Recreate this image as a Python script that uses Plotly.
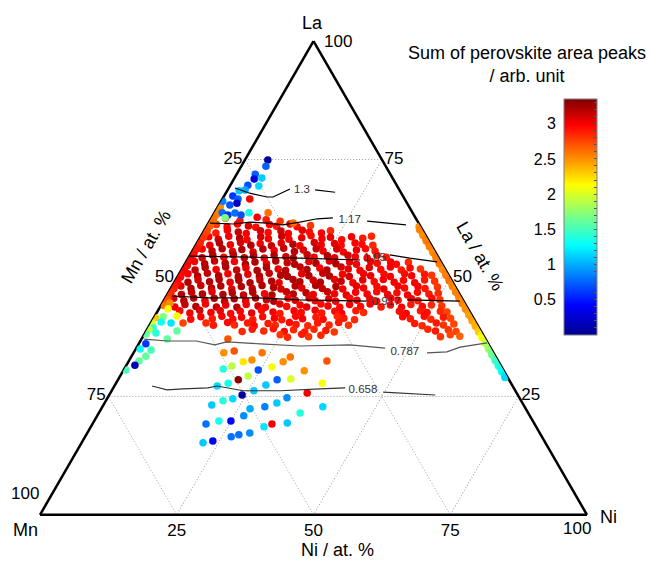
import plotly.graph_objects as go

# ---------------- data (compositions in at.%, value = perovskite peak sum) ----------------
# dense cluster, read row by row (La, Ni and value of every dot)
cluster_la = [
    [62.6, 62.1, 62.8, 62.3, 62.0],
    [61.3, 60.8, 61.4, 61.0, 60.7, 61.3, 60.9, 61.4, 60.8, 61.1],
    [59.5, 60.1, 59.7, 59.4, 60.0, 59.6, 59.9, 59.4, 60.1, 59.7, 59.5, 60.0],
    [58.7, 58.2, 58.8, 58.4, 58.1, 58.7, 58.3, 58.8, 58.2, 58.5, 58.9, 58.3, 58.6, 58.1, 58.7, 58.4, 58.8],
    [56.9, 57.4, 57.0, 57.5, 56.9, 57.3, 56.8, 57.4, 57.1, 56.8, 57.5, 57.0, 57.3, 56.9, 57.4, 57.1, 56.9],
    [56.1, 55.7, 56.2, 55.6, 56.0, 55.5, 56.1, 55.8, 56.3, 55.6, 55.9, 56.2, 55.7, 56.1, 55.5, 55.9, 56.2, 55.7],
    [54.3, 54.8, 54.4, 54.9, 54.3, 54.7, 54.2, 54.8, 54.5, 54.2, 54.9, 54.4, 54.7, 54.3, 54.8, 54.5, 54.2, 54.8, 54.4],
    [53.5, 53.0, 53.6, 53.1, 53.5, 52.9, 53.4, 53.0, 53.6, 53.2, 52.9, 53.5, 53.1, 53.6, 53.0, 53.4, 52.9, 53.5, 53.1, 53.4, 52.9, 53.3],
    [51.7, 52.2, 51.8, 52.3, 51.7, 52.1, 51.6, 52.2, 51.9, 51.6, 52.3, 51.8, 52.1, 51.7, 52.3, 51.9, 51.6, 52.2, 51.8, 52.3, 51.7, 52.1, 51.9],
    [50.9, 50.4, 51.0, 50.5, 50.9, 50.3, 50.8, 50.4, 51.0, 50.6, 50.3, 50.9, 50.5, 51.0, 50.4, 50.8, 50.3, 50.9, 50.5, 50.8, 50.3, 50.9, 50.5, 50.8, 50.6],
    [49.1, 49.6, 49.2, 49.7, 49.1, 49.5, 49.0, 49.6, 49.3, 49.0, 49.7, 49.2, 49.5, 49.1, 49.7, 49.3, 49.0, 49.6, 49.2, 49.7, 49.1, 49.5, 49.0, 49.6, 49.3],
    [48.3, 47.8, 48.4, 47.9, 48.3, 47.7, 48.2, 47.8, 48.4, 48.0, 47.7, 48.3, 47.9, 48.4, 47.8, 48.2, 47.7, 48.3, 47.9, 48.2, 47.7, 48.3, 47.9, 48.2, 47.8, 48.1],
    [46.5, 47.0, 46.6, 47.1, 46.5, 46.9, 46.4, 47.0, 46.7, 46.4, 47.1, 46.6, 46.9, 46.5, 47.1, 46.7, 46.4, 47.0, 46.6, 47.1, 46.5, 46.9, 46.4, 47.0, 46.6, 46.8],
    [45.7, 45.2, 45.8, 45.3, 45.7, 45.1, 45.6, 45.2, 45.8, 45.4, 45.1, 45.7, 45.3, 45.8, 45.2, 45.6, 45.1, 45.7, 45.3, 45.6, 45.1, 45.7, 45.3, 45.6, 45.2, 45.7, 45.4],
    [43.9, 44.4, 44.0, 44.5, 43.9, 44.3, 43.8, 44.4, 44.1, 43.8, 44.5, 44.0, 44.3, 43.9, 44.5, 44.1, 43.8, 44.4, 44.0, 44.5, 43.9, 44.3, 43.8, 44.4, 44.0, 44.3, 44.1],
    [43.1, 42.6, 43.2, 42.7, 43.1, 42.5, 43.0, 42.6, 43.2, 42.8, 42.5, 43.1, 42.7, 43.2, 42.6, 43.0, 42.5, 43.1, 42.7, 43.0, 42.5, 43.1, 42.7, 43.0, 42.8],
    [41.3, 41.8, 41.4, 41.9, 41.3, 41.7, 41.2, 41.8, 41.5, 41.2, 41.9, 41.4, 41.7, 41.3, 41.9, 41.5, 41.2, 41.8, 41.4, 41.9, 41.3, 41.7, 41.5],
    [40.5, 40.0, 40.6, 40.1, 40.5, 39.9, 40.4, 40.0, 40.6, 40.2, 39.9, 40.5, 40.1, 40.6, 40.0, 40.4, 39.9, 40.5, 40.1, 40.3],
    [38.7, 39.2, 38.8, 39.3, 38.7, 39.1, 38.6, 39.2, 38.9, 38.6, 39.2, 38.8, 39.1, 38.7],
    [38.0, 37.5, 38.1, 37.6, 37.9, 37.6, 38.0, 37.7],
]
cluster_ni = [
    [2.6, 5.5, 8.3, 10.2, 12.9],
    [1.6, 3.8, 5.4, 7.6, 9.1, 11.3, 12.8, 15.0, 16.6, 18.9],
    [2.4, 4.2, 6.4, 8.0, 10.3, 11.9, 14.1, 15.7, 17.9, 19.4, 21.7, 23.1],
    [1.5, 3.5, 5.1, 7.3, 8.8, 11.0, 12.6, 14.8, 16.4, 18.6, 20.1, 22.4, 23.8, 26.1, 27.6, 29.8, 31.2],
    [2.6, 4.1, 6.3, 7.9, 10.1, 11.6, 13.9, 15.4, 17.7, 19.1, 21.4, 22.9, 25.2, 26.6, 28.9, 30.3, 32.4],
    [1.6, 3.6, 5.2, 7.4, 8.9, 11.2, 12.7, 14.9, 16.4, 18.7, 20.2, 22.4, 23.9, 26.2, 27.7, 29.9, 31.4, 33.4],
    [2.5, 4.2, 6.4, 7.9, 10.2, 11.7, 13.9, 15.4, 17.7, 19.2, 21.4, 22.9, 25.2, 26.7, 28.9, 30.4, 32.7, 34.2, 36.1],
    [1.5, 3.6, 5.1, 7.3, 8.8, 11.1, 12.6, 14.9, 16.3, 18.6, 20.1, 22.4, 23.9, 26.1, 27.6, 29.9, 31.4, 33.7, 35.1, 37.4, 38.7, 40.7],
    [2.5, 4.1, 6.3, 7.8, 10.1, 11.6, 13.9, 15.3, 17.6, 19.1, 21.4, 22.9, 25.1, 26.6, 28.9, 30.4, 32.7, 34.1, 36.4, 37.9, 40.2, 41.6, 43.6],
    [1.6, 3.6, 5.1, 7.4, 8.9, 11.1, 12.6, 14.9, 16.4, 18.7, 20.1, 22.4, 23.9, 26.2, 27.7, 29.9, 31.4, 33.7, 35.2, 37.5, 38.9, 41.2, 42.7, 44.9, 46.3],
    [2.5, 4.1, 6.4, 7.9, 10.2, 11.6, 13.9, 15.4, 17.7, 19.2, 21.4, 22.9, 25.2, 26.7, 29.0, 30.4, 32.7, 34.2, 36.5, 37.9, 40.2, 41.7, 44.0, 45.5, 47.5],
    [1.6, 3.7, 5.2, 7.4, 8.9, 11.2, 12.7, 14.9, 16.4, 18.7, 20.2, 22.5, 23.9, 26.2, 27.7, 30.0, 31.5, 33.7, 35.2, 37.5, 39.0, 41.3, 42.7, 45.0, 46.5, 48.6],
    [2.6, 4.2, 6.4, 7.9, 10.2, 11.7, 14.0, 15.4, 17.7, 19.2, 21.5, 23.0, 25.2, 26.7, 29.0, 30.5, 32.8, 34.2, 36.5, 38.0, 40.3, 41.8, 44.0, 45.5, 47.8, 49.4],
    [1.6, 3.7, 5.2, 7.5, 9.0, 11.2, 12.7, 15.0, 16.5, 18.7, 20.2, 22.5, 24.0, 26.3, 27.7, 30.0, 31.5, 33.8, 35.3, 37.5, 39.0, 41.3, 42.8, 45.1, 46.5, 48.8, 50.4],
    [2.7, 4.3, 6.5, 8.0, 10.3, 11.8, 14.1, 15.5, 17.8, 19.3, 21.6, 23.1, 25.4, 26.8, 29.1, 30.6, 32.9, 34.4, 36.6, 38.1, 40.4, 41.9, 44.2, 45.6, 47.9, 49.4, 51.4],
    [4.0, 6.1, 7.6, 9.9, 11.4, 13.6, 15.1, 17.4, 18.9, 21.2, 22.6, 24.9, 26.4, 28.7, 30.2, 32.4, 33.9, 36.2, 37.8, 44.2, 45.7, 48.0, 49.4, 51.7, 53.0],
    [6.9, 8.5, 10.8, 12.3, 14.6, 16.0, 18.3, 19.8, 22.1, 23.6, 25.8, 27.3, 29.6, 31.1, 33.4, 34.8, 36.9, 45.4, 47.0, 49.3, 50.8, 52.9, 54.3],
    [10.1, 11.7, 14.0, 15.5, 17.7, 19.2, 21.5, 23.0, 25.3, 26.7, 29.0, 30.5, 32.8, 34.3, 36.4, 48.3, 49.9, 52.2, 53.7, 55.5],
    [17.6, 19.2, 21.5, 23.0, 25.3, 26.8, 29.1, 30.5, 32.8, 34.5, 51.3, 52.9, 55.1, 56.7],
    [24.9, 26.5, 28.8, 30.3, 32.4, 54.4, 56.0, 57.9],
]
cluster_val = [
    [2.75, 2.9, 3.0, 2.9, 2.8],
    [2.8, 2.95, 3.0, 3.1, 2.95, 3.0, 2.9, 3.0, 2.95, 2.8],
    [2.9, 3.0, 3.15, 3.0, 3.1, 2.95, 3.1, 3.0, 3.05, 2.95, 3.0, 2.85],
    [3.0, 3.1, 3.0, 3.2, 3.0, 3.1, 3.0, 3.15, 3.0, 3.05, 2.95, 3.0, 3.05, 2.95, 3.0, 2.9, 2.85],
    [3.05, 3.2, 3.0, 3.1, 3.2, 3.0, 3.15, 3.05, 3.2, 3.0, 3.1, 3.0, 3.05, 2.95, 3.0, 2.95, 2.85],
    [3.0, 3.15, 3.2, 3.05, 3.2, 3.1, 3.2, 3.0, 3.15, 3.2, 3.05, 3.15, 3.0, 3.1, 3.0, 3.05, 2.95, 2.9],
    [3.1, 3.2, 3.0, 3.2, 3.15, 3.2, 3.05, 3.2, 3.1, 3.2, 3.15, 3.0, 3.2, 3.05, 3.1, 3.0, 3.0, 2.95, 2.9],
    [3.0, 3.2, 3.15, 3.2, 3.0, 3.2, 3.2, 3.05, 3.2, 3.15, 3.2, 3.05, 3.2, 3.1, 3.2, 3.05, 3.0, 3.05, 2.95, 3.0, 2.95, 2.85],
    [3.15, 3.2, 3.0, 3.2, 3.15, 3.05, 3.2, 3.2, 3.05, 3.2, 3.15, 3.2, 3.0, 3.2, 3.1, 3.05, 3.0, 3.05, 2.95, 3.0, 2.9, 2.95, 2.8],
    [3.0, 3.2, 3.15, 3.2, 3.0, 3.2, 3.05, 3.2, 3.15, 3.2, 3.2, 3.05, 3.2, 3.15, 3.2, 3.0, 3.1, 3.0, 3.05, 2.95, 3.0, 2.95, 3.0, 2.9, 2.8],
    [3.2, 3.1, 3.2, 3.2, 3.05, 3.2, 3.2, 3.15, 3.2, 3.05, 3.2, 3.2, 3.1, 3.2, 3.05, 3.15, 3.0, 3.05, 2.95, 3.0, 3.0, 2.95, 3.0, 2.9, 2.8],
    [3.05, 3.2, 3.15, 3.2, 3.2, 3.05, 3.2, 3.15, 3.2, 3.2, 3.1, 3.2, 3.05, 3.2, 3.15, 3.2, 3.0, 3.05, 3.0, 2.95, 3.05, 3.0, 2.95, 3.0, 2.9, 2.8],
    [3.2, 3.15, 3.2, 3.05, 3.2, 3.2, 3.15, 3.2, 3.0, 3.2, 3.15, 3.2, 3.2, 3.05, 3.15, 3.0, 3.05, 3.0, 3.0, 2.95, 3.0, 2.95, 3.0, 2.95, 2.9, 2.85],
    [3.1, 3.2, 3.2, 3.05, 3.2, 3.15, 3.2, 3.05, 3.2, 3.15, 3.2, 3.0, 3.1, 3.05, 3.0, 3.05, 3.0, 2.95, 3.0, 3.0, 2.95, 3.0, 2.95, 3.0, 2.9, 2.95, 2.8],
    [3.05, 3.15, 3.2, 3.0, 3.15, 3.05, 3.2, 3.0, 3.1, 3.0, 3.05, 2.95, 3.0, 3.05, 2.95, 3.0, 2.95, 3.0, 2.95, 3.0, 2.9, 2.95, 3.0, 2.9, 2.95, 2.85, 2.8],
    [2.95, 3.0, 3.1, 3.0, 3.05, 2.95, 3.0, 3.05, 2.95, 3.0, 2.9, 3.0, 2.95, 3.0, 2.9, 2.95, 3.0, 2.9, 2.85, 2.95, 3.0, 2.9, 2.95, 2.85, 2.75],
    [2.95, 3.0, 2.9, 3.0, 2.95, 3.0, 2.9, 2.95, 3.0, 2.9, 2.95, 3.0, 2.9, 2.95, 2.85, 2.9, 2.85, 2.95, 2.9, 2.95, 2.85, 2.9, 2.75],
    [2.85, 2.9, 2.95, 2.85, 2.9, 2.95, 2.9, 2.85, 2.95, 2.9, 2.85, 2.9, 2.85, 2.9, 2.8, 2.9, 2.85, 2.9, 2.8, 2.75],
    [2.85, 2.9, 2.85, 2.9, 2.95, 2.85, 2.9, 2.85, 2.9, 2.8, 2.85, 2.9, 2.8, 2.75],
    [2.8, 2.85, 2.9, 2.8, 2.85, 2.8, 2.75, 2.65],
]

# points along the La-Mn edge (Ni ~ 0)
left_edge_la = [65.2, 64.6, 64.0, 63.4, 62.8, 62.2, 61.6, 61.0, 60.4, 59.8, 59.2, 58.6,
                58.0, 57.4, 56.8, 56.2, 55.6, 55.0, 54.4, 53.8, 53.2, 52.6, 52.0, 51.4,
                50.8, 50.2, 49.6, 49.0, 48.4, 47.8, 47.2, 46.6, 46.0, 45.4, 44.8, 44.2]
left_edge_ni = [0.4, 0.6, 0.4, 0.6, 0.4, 0.6, 0.4, 0.6, 0.4, 0.6, 0.4, 0.6,
                0.4, 0.6, 0.4, 0.6, 0.4, 0.6, 0.4, 0.6, 0.4, 0.6, 0.4, 0.6,
                0.4, 0.6, 0.4, 0.6, 0.4, 0.6, 0.4, 0.6, 0.4, 0.6, 0.4, 0.6]
left_edge_val = [2.5, 2.5, 2.55, 2.55, 2.6, 2.6, 2.65, 2.65, 2.7, 2.75, 2.75, 2.8,
                 2.8, 2.85, 2.85, 2.9, 2.9, 2.95, 2.95, 3.0, 2.95, 3.0, 2.95, 3.0,
                 2.95, 2.95, 3.0, 2.95, 2.9, 2.9, 2.85, 2.85, 2.8, 2.75, 2.7, 2.6]

# points along the La-Ni edge (Mn ~ 0)
right_edge_la = [60.8, 60.2, 59.6, 59.0, 58.4, 57.8, 57.2, 56.6, 56.0, 55.4, 54.8, 54.2,
                 53.6, 53.0, 52.4, 51.8, 51.2, 50.6, 50.0, 49.4, 48.8, 48.2, 47.6, 47.0,
                 46.4, 45.8, 45.2, 44.6, 44.0, 43.4, 42.8, 42.2, 41.6, 41.0, 40.4, 39.8,
                 39.2, 38.6, 38.0, 37.4, 36.8, 36.2, 35.6, 35.0, 34.4, 33.8, 33.2, 32.6,
                 32.0, 31.4, 30.8, 30.2, 29.6, 29.0]
right_edge_mn = [0.3, 0.5, 0.3, 0.5, 0.3, 0.5, 0.3, 0.5, 0.3, 0.5, 0.3, 0.5,
                 0.3, 0.5, 0.3, 0.5, 0.3, 0.5, 0.3, 0.5, 0.3, 0.5, 0.3, 0.5,
                 0.3, 0.5, 0.3, 0.5, 0.3, 0.5, 0.3, 0.5, 0.3, 0.5, 0.3, 0.5,
                 0.3, 0.5, 0.3, 0.5, 0.3, 0.5, 0.3, 0.5, 0.3, 0.5, 0.3, 0.5,
                 0.3, 0.5, 0.3, 0.5, 0.3, 0.5]
right_edge_val = [2.5, 2.55, 2.55, 2.5, 2.55, 2.55, 2.6, 2.55, 2.55, 2.5, 2.55, 2.55,
                  2.55, 2.6, 2.55, 2.5, 2.55, 2.55, 2.55, 2.6, 2.55, 2.55, 2.5, 2.55,
                  2.55, 2.55, 2.5, 2.55, 2.5, 2.5, 2.5, 2.45, 2.45, 2.45, 2.4, 2.4,
                  2.35, 2.3, 2.2, 2.1, 2.05, 1.95, 1.85, 1.8, 1.7, 1.65, 1.6, 1.5,
                  1.45, 1.4, 1.35, 1.3, 1.2, 1.15]

# blue streak at the top-left
streak_la = [74.9, 73.6, 71.9, 71.1, 70.9, 69.6, 69.4, 68.4, 68.6, 67.3, 66.7, 65.8,
             66.7, 66.2, 65.4, 63.8, 63.3, 63.7, 63.3, 63.8, 62.7, 63.8, 61.6]
streak_ni = [4.2, 4.5, 3.4, 5.0, 3.7, 3.2, 5.3, 2.2, 3.2, 1.6, 2.85, 3.1,
             5.0, 0.3, 2.0, 1.4, 2.7, 3.8, 5.1, 6.3, 2.5, 9.8, 15.5]
streak_val = [0.05, 0.75, 0.75, 1.1, 0.3, 0.7, 1.15, 1.1, 1.0, 0.6, 0.75, 0.2,
              3.0, 0.85, 0.7, 0.8, 0.6, 0.8, 0.7, 1.35, 1.7, 2.6, 2.6]

# coloured points near the Mn-rich left edge
edge_low_la = [44.7, 43.5, 42.0, 41.8, 41.6, 40.5, 40.7, 40.5, 39.45, 38.4, 39.2,
               38.2, 38.8, 37.1, 36.1, 35.0, 34.8, 33.5, 32.5, 31.6, 30.6, 40.5]
edge_low_ni = [1.4, 1.65, 4.05, 1.6, 0.3, 0.3, 1.8, 3.7, 0.95, 2.0, 0.3,
               0.3, 5.65, 4.7, 1.3, 0.8, 2.9, 2.6, 1.85, 1.55, 0.4, 5.9]
edge_low_val = [2.5, 2.15, 2.1, 1.7, 2.3, 2.0, 1.3, 1.2, 1.45, 1.4, 1.9,
                1.6, 1.6, 1.6, 0.6, 1.3, 1.5, 1.6, 1.6, 0.15, 1.5, 2.75]

# scattered points in the lower (La-poor) region
lower_la = [37.1, 34.2, 34.6, 34.2, 32.7, 32.3, 31.4, 30.8, 32.3, 33.3, 31.2, 30.6,
            29.3, 28.5, 27.8, 27.2, 27.4, 28.5, 28.7, 30.4, 32.5, 27.8, 25.7, 26.2,
            25.3, 24.1, 24.5, 23.2, 22.4, 22.8, 23.6, 24.7, 22.8, 21.5, 20.9, 19.8,
            19.8, 19.2, 18.6, 19.2, 19.4, 17.3, 16.9, 16.5, 15.6, 15.2]
lower_ni = [15.8, 16.5, 18.2, 23.5, 22.4, 21.0, 19.4, 18.1, 28.3, 29.1, 26.8, 24.6,
            23.4, 22.0, 20.5, 18.8, 27.6, 29.1, 31.5, 33.1, 36.2, 37.7, 36.0, 26.0,
            24.3, 21.4, 23.0, 19.8, 27.2, 29.7, 31.5, 32.8, 40.3, 36.8, 26.8, 25.0,
            22.8, 20.75, 31.65, 32.8, 35.5, 29.7, 27.9, 26.7, 23.8, 22.2]
lower_val = [2.7, 2.5, 2.7, 2.6, 2.5, 2.2, 1.9, 1.4, 2.5, 2.6, 2.1, 0.7,
             1.9, 3.3, 1.35, 1.15, 1.1, 0.75, 2.0, 2.5, 2.7, 2.1, 3.0, 1.1,
             0.05, 1.4, 1.15, 1.1, 1.0, 0.85, 1.1, 0.9, 1.15, 1.4, 0.9, 0.45,
             1.35, 0.8, 1.2, 3.0, 1.1, 0.9, 0.8, 0.8, 0.4, 1.1]

# labelled iso-lines: (La list, Ni list, label, label La, label Ni)
iso_lines = [
    ([69.0, 67.9, 67.1, 67.1, 68.1, 68.8, None, 68.6, 68.1],
     [1.15, 4.4, 7.95, 9.05, 10.4, 11.3, None, 16.0, 19.9], "1.3", 68.6, 13.6),
    ([61.6, 61.4, 61.8, 61.6, 61.2, 61.8, 62.5, 62.7, None, 62.0, 61.2],
     [0.3, 4.6, 7.5, 10.7, 13.8, 16.6, 19.4, 22.2, None, 28.8, 36.3], "1.17", 62.2, 25.5),
    ([54.6, 54.4, 54.2, 53.8, None, 54.9, 54.2, 53.4],
     [0.1, 11.2, 20.4, 31.6, None, 36.5, 40.5, 45.9], "1.05", 54.2, 34.1),
    ([46.2, 45.8, 45.8, 45.4, 45.1, None, 45.4, 45.1],
     [1.0, 7.8, 16.95, 24.8, 37.2, None, 44.4, 54.2], "0.917", 44.9, 40.8),
    ([37.1, 36.7, 36.7, 35.9, 36.5, 36.1, 35.65, 35.9, 35.2, None, 34.2, 34.4, 35.4, 36.3],
     [0.5, 4.9, 10.2, 14.0, 15.9, 22.2, 29.7, 38.7, 45.5, None, 53.65, 57.2, 59.1, 63.6], "0.787", 34.4, 49.5),
    ([27.2, 26.4, 26.6, 26.8, 27.2, 26.2, 26.2, 26.6, 26.8, None, 25.9, 25.3],
     [6.9, 10.0, 12.8, 17.3, 18.8, 24.0, 30.8, 37.9, 42.4, None, 49.8, 59.6], "0.658", 26.4, 45.85),
]
iso_colors = ["black", "black", "black", "black", "#555555", "#333333"]

cb_ticks = [0.5, 1, 1.5, 2, 2.5, 3]
axis_tickvals = [25, 50, 75]
# each edge is labelled with the complementary element's percentage
axis_ticktext = [str(100 - v) for v in axis_tickvals]

# ---------------- figure ----------------
jet = [[0.0, "rgb(0,0,143)"], [0.127, "rgb(0,0,255)"], [0.381, "rgb(0,255,255)"],
       [0.635, "rgb(255,255,0)"], [0.889, "rgb(255,0,0)"], [1.0, "rgb(128,0,0)"]]
CMIN, CMAX = 0.0, 3.35

fig = go.Figure()


def add_points(la, val, ni=None, mn=None):
    if mn is None:
        mn = [100 - a - c for a, c in zip(la, ni)]
    else:
        ni = [100 - a - m for a, m in zip(la, mn)]
    fig.add_trace(go.Scatterternary(
        a=la, b=mn, c=ni, mode="markers",
        marker=dict(size=7.5, color=val, coloraxis="coloraxis", line=dict(width=0)),
        showlegend=False, hoverinfo="skip"))


cl_la, cl_ni, cl_v = [], [], []
for las, nis, vs in zip(cluster_la, cluster_ni, cluster_val):
    for a, n, v in zip(las, nis, vs):
        cl_la.append(a)
        cl_ni.append(n)
        cl_v.append(v)

add_points(cl_la, cl_v, ni=cl_ni)
add_points(left_edge_la, left_edge_val, ni=left_edge_ni)
add_points(right_edge_la, right_edge_val, mn=right_edge_mn)
add_points(streak_la, streak_val, ni=streak_ni)
add_points(edge_low_la, edge_low_val, ni=edge_low_ni)
add_points(lower_la, lower_val, ni=lower_ni)

for (la, ni, lab, lla, lni), col in zip(iso_lines, iso_colors):
    mn = [None if a is None else 100 - a - c for a, c in zip(la, ni)]
    fig.add_trace(go.Scatterternary(
        a=la, b=mn, c=ni, mode="lines", line=dict(color=col, width=1.2),
        connectgaps=False, showlegend=False, hoverinfo="skip"))
    fig.add_trace(go.Scatterternary(
        a=[lla], b=[100 - lla - lni], c=[lni], mode="text", text=[lab],
        textfont=dict(size=11.5, color="#333333", family="Liberation Sans, Arial, sans-serif"),
        showlegend=False, hoverinfo="skip"))

# invisible cartesian trace that carries the colour-bar tick labels (left of the bar)
fig.add_trace(go.Scatter(x=[None], y=[None], xaxis="x", yaxis="y", showlegend=False, hoverinfo="skip"))

tick_font = dict(size=17, color="black")
axis_common = dict(
    showline=True, linecolor="black", linewidth=2.5, layer="below traces",
    showgrid=True, gridcolor="#a0a0a0", gridwidth=1, griddash="1px,2px",
    ticks="", tickmode="array", tickvals=axis_tickvals, ticktext=axis_ticktext,
    tickfont=tick_font, min=0, title=dict(text=""),
)


def label(text, x, y, angle=0, size=18):
    return dict(text=text, x=x, y=y, xref="paper", yref="paper", showarrow=False,
                xanchor="center", yanchor="middle", textangle=angle,
                font=dict(size=size, color="black"))


fig.update_layout(
    width=652, height=561,
    margin=dict(l=40, r=65, t=41, b=46),
    paper_bgcolor="white", plot_bgcolor="rgba(0,0,0,0)",
    font=dict(family="Liberation Sans, Arial, sans-serif", size=17, color="black"),
    showlegend=False,
    ternary=dict(
        sum=100, bgcolor="white", domain=dict(x=[0, 1], y=[0, 1]),
        aaxis=axis_common, baxis=axis_common, caxis=axis_common,
    ),
    coloraxis=dict(
        colorscale=jet, cmin=CMIN, cmax=CMAX,
        colorbar=dict(
            x=0.958, xanchor="left", xpad=0, y=0.8776, yanchor="top", ypad=0,
            lenmode="pixels", len=236, thickness=33,
            outlinecolor="#808080", outlinewidth=1,
            ticks="inside", ticklen=3, tickcolor="#555555", tick0=0, dtick=0.1,
            showticklabels=False,
        ),
    ),
    xaxis=dict(visible=False, domain=[0.96, 1.0], range=[0, 1], fixedrange=True),
    yaxis=dict(domain=[0.3797, 0.8776], range=[CMIN, CMAX], anchor="free", position=0.958,
               side="left", tickmode="array", tickvals=cb_ticks,
               ticktext=[f"{t:g}" for t in cb_ticks], showline=False, showgrid=False,
               zeroline=False, ticks="", ticklabelstandoff=8,
               tickfont=dict(size=16, color="black"), fixedrange=True),
    annotations=[
        label("Sum of perovskite area peaks<br>/ arb. unit", 0.890, 0.951),
        label("La", 0.499, 1.038),
        label("Mn", -0.027, -0.032),
        label("Ni", 1.040, -0.004),
        # vertex values of the three edge scales
        label("100", 0.545, 0.998, size=17),
        label("100", -0.027, 0.046, size=17),
        label("100", 0.982, -0.029, size=17),
        label("Mn / at. %", 0.194, 0.565, -60),
        label("La / at. %", 0.804, 0.546, 60),
        label("Ni / at. %", 0.543, -0.073),
    ],
)

fig.write_html("out.html")
